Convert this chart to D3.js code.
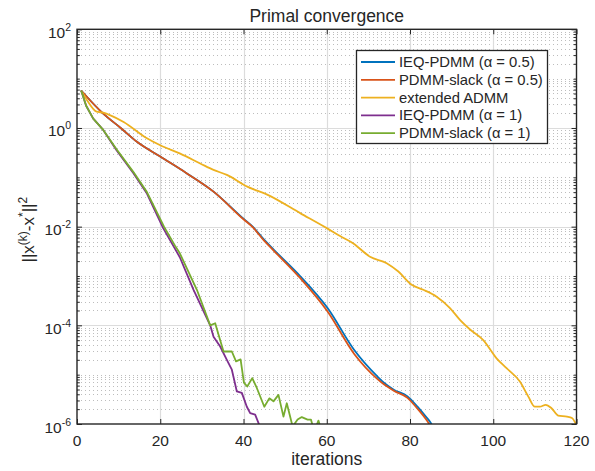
<!DOCTYPE html>
<html><head><meta charset="utf-8">
<script src="https://cdn.jsdelivr.net/npm/d3@7"></script>
<style>
body{margin:0;background:#fff}
svg{display:block}
text{font-family:"Liberation Sans",Arial,Helvetica,sans-serif;fill:#262626}
</style>
</head><body><svg id="c" width="595" height="471"></svg>
<script>
// ---------- data ----------
const chartTitle = "Primal convergence";
const xLabel = "iterations";
const xTicks = [0, 20, 40, 60, 80, 100, 120];
const yTickExps = [2, 0, -2, -4, -6];
const seriesNames = ["IEQ-PDMM (\u03b1 = 0.5)", "PDMM-slack (\u03b1 = 0.5)", "extended ADMM", "IEQ-PDMM (\u03b1 = 1)", "PDMM-slack (\u03b1 = 1)"];
const seriesColors = ["#0072BD", "#D95319", "#EDB120", "#7E2F8E", "#77AC30"];

const itHalf = [1, 6.3, 10.5, 14.4, 20, 26.4, 32.8, 40, 42.2, 45, 47.3, 53.7, 60.2, 66.6, 72.2, 73.8, 76.2, 79.4, 81.8, 83.8, 85, 86];
const ieqHalf = [5.75, 1.95, 1, 0.525, 0.263, 0.120, 0.0513, 0.0145, 0.01, 5.37e-3, 3.39e-3, 9.77e-4, 2.24e-4, 3.16e-5, 9.12e-6, 6.76e-6, 4.90e-6, 3.63e-6, 2.24e-6, 1.41e-6, 1.05e-6, 7.1e-7];
const slackHalf = [5.75, 1.95, 1, 0.525, 0.263, 0.120, 0.0513, 0.0141, 9.77e-3, 5.13e-3, 3.24e-3, 8.91e-4, 1.91e-4, 2.63e-5, 8.13e-6, 6.31e-6, 4.68e-6, 3.39e-6, 2.04e-6, 1.26e-6, 8.9e-7, 6.3e-7];

const itAdmm = [1, 2.5, 4.7, 6.3, 7.9, 11.2, 16.8, 20, 24.8, 29.6, 32.8, 36, 40.9, 45.7, 53.7, 60, 63.2, 66.4, 70.4, 74.4, 77.2, 80.4, 83.2, 86.4, 89.6, 92, 94.5, 97.6, 100.8, 103.2, 106.4, 108.4, 110, 111.2, 112.6, 114, 115.6, 117.7, 118.9, 120];
const admm = [5.75, 3.55, 2.14, 2.04, 1.82, 1.32, 0.617, 0.447, 0.302, 0.191, 0.141, 0.112, 0.0646, 0.0447, 0.0186, 9.33e-3, 6.46e-3, 4.57e-3, 2.45e-3, 1.82e-3, 1.23e-3, 6.61e-4, 5.25e-4, 3.80e-4, 2.24e-4, 1.29e-4, 8.13e-5, 5.01e-5, 2.14e-5, 1.35e-5, 7.24e-6, 3.63e-6, 2.24e-6, 2.24e-6, 2.45e-6, 2.09e-6, 1.48e-6, 1.41e-6, 1.32e-6, 9.5e-7];

const itIeqOne = [1, 2.2, 3.9, 6.3, 9.5, 13.6, 16.8, 20.7, 24.7, 28, 32, 32.8, 34.4, 36, 37.2, 38.4, 39.6, 40.8, 41.6, 42.8, 43.8, 44.5];
const ieqOne = [5.75, 2.82, 1.55, 0.912, 0.355, 0.120, 0.0468, 9.33e-3, 2.40e-3, 5.25e-4, 1.0e-4, 5.89e-5, 3.72e-5, 2.0e-5, 1.26e-5, 4.57e-6, 4.27e-6, 2.24e-6, 1.66e-6, 1.55e-6, 9.5e-7, 7.1e-7];

const itSlackOne = [1, 2.2, 3.9, 6.3, 9.5, 13.6, 16.8, 20.9, 23.5, 24.7, 28.8, 32, 33.2, 34.4, 35.2, 37.2, 38.2, 39.3, 40.1, 40.9, 42.1, 43.2, 45, 46.2, 47.2, 48.4, 49.6, 50.4, 51.8, 53, 54, 55.4, 56.2, 57, 58, 59];
const slackOne = [5.75, 2.82, 1.55, 0.912, 0.372, 0.126, 0.0501, 0.01, 4.17e-3, 2.88e-3, 5.25e-4, 1.0e-4, 1.10e-4, 5.01e-5, 2.95e-5, 2.95e-5, 1.86e-5, 2.04e-5, 6.92e-6, 5.75e-6, 8.51e-6, 5.37e-6, 2.24e-6, 3.31e-6, 2.88e-6, 3.89e-6, 1.41e-6, 2.63e-6, 8.9e-7, 1.23e-6, 1.38e-6, 1.23e-6, 1.23e-6, 7.1e-7, 1.17e-6, 6.3e-7];

// ---------- layout ----------
const L = 77, R = 576.5, T = 29.3, B = 424;
const x = d3.scaleLinear().domain([0, 120]).range([L, R]);
const y = d3.scaleLog().domain([1e-6, 1e2]).range([B, T]);
const svg = d3.select("#c");
const axisCol = "#262626";

// grid
const minorY = [];
for (let k = -6; k <= 1; k++) for (let d = 2; d <= 10; d++) {
  const v = d * Math.pow(10, k);
  if (d === 10 && (k + 1) % 2 === 0) continue;
  minorY.push(v);
}
const majorY = yTickExps.map(e => Math.pow(10, e));
const g = svg.append("g");
g.selectAll(".mg").data(minorY).join("line")
  .attr("x1", L).attr("x2", R)
  .attr("y1", d => Math.round(y(d)) + 0.5).attr("y2", d => Math.round(y(d)) + 0.5)
  .attr("stroke", "#bdbdbd").attr("stroke-width", 1).attr("stroke-dasharray", "1,3");
g.selectAll(".My").data(majorY.slice(1, -1)).join("line")
  .attr("x1", L).attr("x2", R)
  .attr("y1", d => Math.round(y(d)) + 0.5).attr("y2", d => Math.round(y(d)) + 0.5)
  .attr("stroke", "#dcdcdc").attr("stroke-width", 1.2);
g.selectAll(".Mx").data(xTicks.slice(1, -1)).join("line")
  .attr("y1", T).attr("y2", B)
  .attr("x1", d => Math.round(x(d)) + 0.5).attr("x2", d => Math.round(x(d)) + 0.5)
  .attr("stroke", "#dcdcdc").attr("stroke-width", 1.2);

// lines
svg.append("defs").append("clipPath").attr("id", "clip")
  .append("rect").attr("x", L).attr("y", T).attr("width", R - L).attr("height", B - T);
const series = [
  {it: itHalf, v: ieqHalf, smooth: true},
  {it: itHalf, v: slackHalf, smooth: true},
  {it: itAdmm, v: admm, smooth: true},
  {it: itIeqOne, v: ieqOne, smooth: false},
  {it: itSlackOne, v: slackOne, smooth: false}
];
const lg = svg.append("g").attr("clip-path", "url(#clip)");
series.forEach((s, i) => {
  const line = d3.line().x(d => x(d[0])).y(d => y(d[1]))
    .curve(s.smooth ? d3.curveMonotoneX : d3.curveLinear);
  lg.append("path").datum(s.it.map((t, j) => [t, s.v[j]]))
    .attr("d", line).attr("fill", "none")
    .attr("stroke", seriesColors[i]).attr("stroke-width", 1.8)
    .attr("stroke-linejoin", "round");
});

// axes (ticks inward)
const minorTickVals = minorY;
const axB = svg.append("g").attr("transform", `translate(0,${B})`)
  .call(d3.axisBottom(x).tickValues(xTicks).tickSize(-5).tickFormat(""));
const axT = svg.append("g").attr("transform", `translate(0,${T})`)
  .call(d3.axisTop(x).tickValues(xTicks).tickSize(-5).tickFormat(""));
const axL = svg.append("g").attr("transform", `translate(${L},0)`)
  .call(d3.axisLeft(y).tickValues(majorY).tickSize(-5).tickFormat(""));
const axR = svg.append("g").attr("transform", `translate(${R},0)`)
  .call(d3.axisRight(y).tickValues(majorY).tickSize(-5).tickFormat(""));
const axLm = svg.append("g").attr("transform", `translate(${L},0)`)
  .call(d3.axisLeft(y).tickValues(minorTickVals).tickSize(-2.8).tickFormat(""));
const axRm = svg.append("g").attr("transform", `translate(${R},0)`)
  .call(d3.axisRight(y).tickValues(minorTickVals).tickSize(-2.8).tickFormat(""));
[axB, axT, axL, axR, axLm, axRm].forEach(a => {
  a.select(".domain").remove();
  a.selectAll("line").attr("stroke", axisCol).attr("stroke-width", 1);
});
svg.append("rect").attr("x", L).attr("y", T).attr("width", R - L).attr("height", B - T)
  .attr("fill", "none").attr("stroke", axisCol).attr("stroke-width", 1.4);

// tick labels
svg.append("g").selectAll("text").data(xTicks).join("text")
  .attr("x", d => x(d)).attr("y", B + 22).attr("text-anchor", "middle")
  .attr("font-size", 15.5).text(d => d);
const yl = svg.append("g").selectAll("text").data(yTickExps).join("text")
  .attr("x", 71).attr("y", d => y(Math.pow(10, d)) + 8.5).attr("text-anchor", "end")
  .attr("font-size", 15.5);
yl.append("tspan").text("10");
yl.append("tspan").attr("font-size", 10.5).attr("dy", -7).text(d => d);

// title and axis labels
svg.append("text").attr("x", (L + R) / 2).attr("y", 21.5).attr("text-anchor", "middle")
  .attr("font-size", 17.5).text(chartTitle);
svg.append("text").attr("x", (L + R) / 2).attr("y", 465).attr("text-anchor", "middle")
  .attr("font-size", 17.5).text(xLabel);
const yLab = svg.append("text").attr("transform", `translate(33.5,${(T + B) / 2 + 3}) rotate(-90)`)
  .attr("text-anchor", "middle").attr("font-size", 17);
yLab.append("tspan").text("||x");
yLab.append("tspan").attr("font-size", 12).attr("dy", -7).text("(k)");
yLab.append("tspan").attr("dy", 7).text("-x");
yLab.append("tspan").attr("font-size", 12).attr("dy", -7).text("*");
yLab.append("tspan").attr("dy", 7).text("||");
yLab.append("tspan").attr("font-size", 12).attr("dy", -7).text("2");

// legend
const lgX = 356, lgY = 50, lgW = 191, lgH = 93, rowH = 17.8;
const leg = svg.append("g");
leg.append("rect").attr("x", lgX + 0.5).attr("y", lgY + 0.5).attr("width", lgW).attr("height", lgH)
  .attr("fill", "#fff").attr("stroke", axisCol).attr("stroke-width", 1.3);
seriesNames.forEach((n, i) => {
  const cy = lgY + 12 + i * rowH;
  leg.append("line").attr("x1", lgX + 5).attr("x2", lgX + 39).attr("y1", cy).attr("y2", cy)
    .attr("stroke", seriesColors[i]).attr("stroke-width", 1.8);
  leg.append("text").attr("x", lgX + 43).attr("y", cy + 5).attr("font-size", 14.8).text(n);
});
</script>
</body></html>
